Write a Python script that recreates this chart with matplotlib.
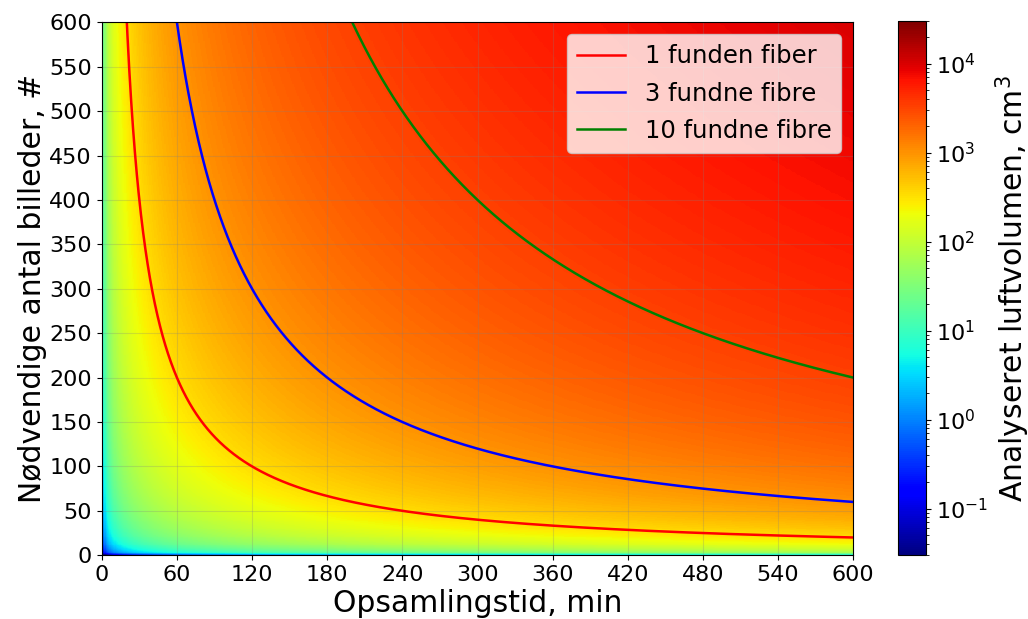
import matplotlib
matplotlib.use("Agg")
import matplotlib.pyplot as plt
import numpy as np
from matplotlib.colors import LogNorm

# opsamlingstid (min) og antal billeder
tid = np.linspace(0.5, 600, 600)
billeder = np.linspace(0.5, 600, 600)
volumen_pr_billede_min = 1 / 36  # cm3 pr. (min * billede)

fibre = [1, 3, 10]
volumen_pr_fiber = 1000 / 3  # cm3
farver = ['red', 'blue', 'green']
navne = ['1 funden fiber', '3 fundne fibre', '10 fundne fibre']

T, N = np.meshgrid(tid, billeder)
V = T * N * volumen_pr_billede_min

fig = plt.figure(figsize=(10.28, 6.19), dpi=100)
ax = fig.add_axes([0.099, 0.103, 0.731, 0.861])
cax = fig.add_axes([0.874, 0.103, 0.027, 0.863])

im = ax.pcolormesh(T, N, V, cmap='jet', norm=LogNorm(vmin=0.03, vmax=30000),
                   shading='auto', rasterized=True)

for k, c, navn in zip(fibre, farver, navne):
    t = np.linspace(1, 600, 2000)
    n = k * volumen_pr_fiber / (t * volumen_pr_billede_min)
    ax.plot(t, n, color=c, lw=1.8, label=navn)

ax.set_xlim(0, 600)
ax.set_ylim(0, 600)
ax.set_xticks(np.arange(0, 601, 60))
ax.set_yticks(np.arange(0, 601, 50))
ax.tick_params(labelsize=16)
ax.grid(True, color='gray', alpha=0.25, lw=0.8)
ax.set_xlabel('Opsamlingstid, min', fontsize=21.5, labelpad=3)
ax.set_ylabel('Nødvendige antal billeder, #', fontsize=21.5, labelpad=2)
ax.legend(loc='upper right', fontsize=17.5, framealpha=0.8, labelspacing=0.55)

cb = fig.colorbar(im, cax=cax)
cb.ax.tick_params(labelsize=16)
cb.set_label('Analyseret luftvolumen, cm$^3$', fontsize=21.5)

fig.savefig('out.png', dpi=100)
